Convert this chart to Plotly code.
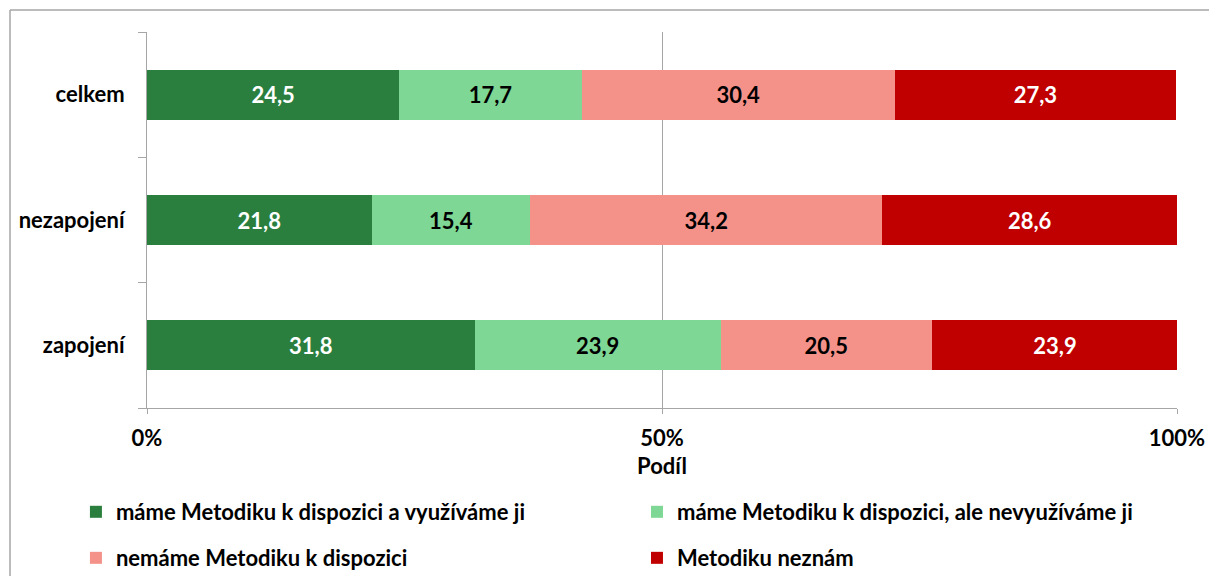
import plotly.graph_objects as go

categories = ["zapojení", "nezapojení", "celkem"]
series_names = [
    "máme Metodiku k dispozici a využíváme ji",
    "máme Metodiku k dispozici, ale nevyužíváme ji",
    "nemáme Metodiku k dispozici",
    "Metodiku neznám",
]
vyuzivame = [31.8, 21.8, 24.5]
nevyuzivame = [23.9, 15.4, 17.7]
nemame = [20.5, 34.2, 30.4]
neznam = [23.9, 28.6, 27.3]
x_ticks = [0, 50, 100]
x_labels = ["0%", "50%", "100%"]

colors = ["#2A7F3F", "#7ED794", "#F4928A", "#C00000"]
label_colors = ["white", "black", "black", "white"]
legends = ["legend", "legend2", "legend3", "legend4"]
legend_pos = [(-0.069, -0.2766), (0.4757, -0.2766), (-0.069, -0.399), (0.4757, -0.399)]

font = "Lato"
fsize = 22

fig = go.Figure()
for name, vals, col, lcol, lg in zip(series_names, [vyuzivame, nevyuzivame, nemame, neznam],
                                    colors, label_colors, legends):
    fig.add_trace(go.Bar(
        y=categories, x=vals, name=name, orientation="h",
        marker=dict(color=col, line=dict(width=0)),
        width=0.4,
        texttemplate="%{x:.1f}", textposition="inside", insidetextanchor="middle",
        textfont=dict(color=lcol, size=22, family=font, weight="bold"),
        legend=lg,
    ))

legend_layout = {}
for lg, (lx, ly) in zip(legends, legend_pos):
    legend_layout[lg] = dict(orientation="h", x=lx, xanchor="left", y=ly, yanchor="middle",
                             bgcolor="rgba(0,0,0,0)",
                             font=dict(size=fsize, family=font, weight="bold", color="black"))

# chart frame (only top and left edges are inside the picture)
frame = dict(color="#A6A6A6", width=1.5)
fig.update_layout(
    barmode="stack",
    width=1209, height=576,
    margin=dict(l=147, r=32, t=32, b=168, autoexpand=False),
    plot_bgcolor="white", paper_bgcolor="white",
    separators=", ",
    font=dict(family=font, size=fsize, color="black", weight="bold"),
    showlegend=True,
    shapes=[
        dict(type="line", xref="paper", yref="paper", x0=-0.133, x1=1.0311,
             y0=1.0585, y1=1.0585, line=frame, layer="below"),
        dict(type="line", xref="paper", yref="paper", x0=-0.133, x1=-0.133,
             y0=-0.447, y1=1.0585, line=frame, layer="below"),
    ],
    **legend_layout,
)

fig.update_xaxes(
    range=[0, 100], tickvals=x_ticks, ticktext=x_labels,
    showgrid=True, gridcolor="#A6A6A6", gridwidth=1,
    showline=True, linecolor="#A6A6A6", linewidth=1,
    ticks="outside", ticklen=5, tickcolor="#A6A6A6",
    ticklabelstandoff=6, zeroline=False,
    title=dict(text="Podíl", standoff=8, font=dict(size=fsize, family=font, weight="bold")),
    tickfont=dict(size=fsize, family=font, weight="bold"),
)
fig.update_yaxes(
    range=[-0.5, 2.5], showline=True, linecolor="#A6A6A6", linewidth=1,
    ticks="outside", ticklen=8, tickcolor="#A6A6A6", tickson="boundaries",
    ticklabelstandoff=17, showgrid=False,
    tickfont=dict(size=fsize, family=font, weight="bold"),
)

fig.write_html("out.html", config={"displayModeBar": False},
               post_script="document.body.style.margin='0';"
                           "document.body.style.overflow='hidden';")
